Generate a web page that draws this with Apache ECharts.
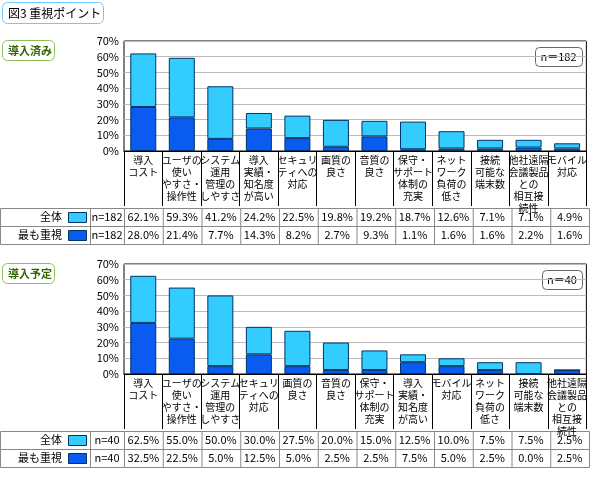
<!DOCTYPE html>
<html><head><meta charset="utf-8">
<script src="https://cdn.jsdelivr.net/npm/echarts@6/dist/echarts.min.js"></script>
<style>html,body{margin:0;padding:0;background:#fff}#c{width:590px;height:481px}</style>
</head><body><div id="c"></div>
<script>
const catsA = ['導入\nコスト', 'ユーザの\n使い\nやすさ・\n操作性', 'システム\n運用\n管理の\nしやすさ', '導入\n実績・\n知名度\nが高い', 'セキュリ\nティへの\n対応', '画質の\n良さ', '音質の\n良さ', '保守・\nサポート\n体制の\n充実', 'ネット\nワーク\n負荷の\n低さ', '接続\n可能な\n端末数', '他社遠隔\n会議製品\nとの\n相互接\n続性', 'モバイル\n対応'];
const totalA = [62.1, 59.3, 41.2, 24.2, 22.5, 19.8, 19.2, 18.7, 12.6, 7.1, 7.1, 4.9];
const keyA = [28.0, 21.4, 7.7, 14.3, 8.2, 2.7, 9.3, 1.1, 1.6, 1.6, 2.2, 1.6];
const catsB = ['導入\nコスト', 'ユーザの\n使い\nやすさ・\n操作性', 'システム\n運用\n管理の\nしやすさ', 'セキュリ\nティへの\n対応', '画質の\n良さ', '音質の\n良さ', '保守・\nサポート\n体制の\n充実', '導入\n実績・\n知名度\nが高い', 'モバイル\n対応', 'ネット\nワーク\n負荷の\n低さ', '接続\n可能な\n端末数', '他社遠隔\n会議製品\nとの\n相互接\n続性'];
const totalB = [62.5, 55.0, 50.0, 30.0, 27.5, 20.0, 15.0, 12.5, 10.0, 7.5, 7.5, 2.5];
const keyB = [32.5, 22.5, 5.0, 12.5, 5.0, 2.5, 2.5, 7.5, 5.0, 2.5, 0.0, 2.5];
const nA = 182, nB = 40;

const LIGHT = '#33ccff', DARK = '#0a5cf0', FONT = '"Noto Sans CJK JP", sans-serif';
const L = 124, W = 465, COL = W / 12;

const chart = echarts.init(document.getElementById('c'));

const panels = [
  { cats: catsA, total: totalA, key: keyA, n: nA, top: 41, name: '導入済み', nbox: [535, 47, 47] },
  { cats: catsB, total: totalB, key: keyB, n: nB, top: 264, name: '導入予定', nbox: [542, 270, 40] }
];

const grid = [], xAxis = [], yAxis = [], series = [], graphic = [];
const txt = (x, y, s, align, extra) => ({ type: 'text', x, y, style: Object.assign({ text: s, font: '11px ' + FONT, fill: '#000', align: align || 'center', verticalAlign: 'middle' }, extra || {}) });
const rect = (x, y, w, h, stroke, fill, r) => ({ type: 'rect', shape: { x, y, width: w, height: h, r: r || 0 }, style: { stroke, fill: fill || 'none', lineWidth: 1 } });

graphic.push(rect(2.5, 2.5, 101, 21, '#66ccff', '#fff', 5), txt(8, 13, '図3 重視ポイント', 'left', { font: '12px ' + FONT }));

panels.forEach((p, i) => {
  grid.push({ left: L, top: p.top, width: W, height: 110, show: true, borderColor: '#000', borderWidth: 1 });
  xAxis.push({
    type: 'category', gridIndex: i, data: p.cats,
    axisLine: { lineStyle: { color: '#000' } },
    axisTick: { show: true, length: 55, lineStyle: { color: '#000' } },
    axisLabel: { interval: 0, fontSize: 10, lineHeight: 12, color: '#000', fontFamily: FONT, margin: 3, verticalAlign: 'top' }
  });
  yAxis.push({
    type: 'value', gridIndex: i, min: 0, max: 70, interval: 10,
    axisLine: { show: false }, axisTick: { show: false },
    axisLabel: { formatter: '{value}%', fontSize: 11, color: '#000', fontFamily: FONT, margin: 5 },
    splitLine: { lineStyle: { color: '#bbb' } }
  });
  series.push(
    { type: 'bar', xAxisIndex: i, yAxisIndex: i, stack: 's' + i, data: p.key, barWidth: 26,
      itemStyle: { color: DARK, borderColor: '#003366', borderWidth: 1 } },
    { type: 'bar', xAxisIndex: i, yAxisIndex: i, stack: 's' + i, data: p.total.map((t, j) => +(t - p.key[j]).toFixed(1)), barWidth: 26,
      itemStyle: { color: LIGHT, borderColor: '#003366', borderWidth: 1 } }
  );

  graphic.push(rect(2.5, p.top - 0.5, 52, 20, '#88c057', '#fff', 5), txt(8, p.top + 10, p.name, 'left', { font: 'bold 11px ' + FONT, fill: '#336600' }));
  const [bx, by, bw] = p.nbox;
  graphic.push(rect(bx + 0.5, by + 0.5, bw, 19, '#666', '#fff', 4), txt(bx + bw / 2, by + 10, 'n＝' + p.n));

  // table
  const ty = p.top + 167;
  const rows = [['全体', LIGHT, p.total], ['最も重視', DARK, p.key]];
  rows.forEach((r, k) => {
    const y = ty + k * 18;
    graphic.push(rect(0.5, y + 0.5, L + W, 18, '#888'));
    graphic.push({ type: 'line', shape: { x1: 90.5, y1: y, x2: 90.5, y2: y + 18 }, style: { stroke: '#888' } });
    graphic.push(txt(62, y + 9, r[0], 'right'), rect(68.5, y + 4.5, 18, 10, '#003366', r[1]));
    graphic.push(txt(107, y + 9, 'n=' + p.n));
    r[2].forEach((v, j) => {
      const x = L + j * COL;
      graphic.push({ type: 'line', shape: { x1: x + 0.5, y1: y, x2: x + 0.5, y2: y + 18 }, style: { stroke: '#888' } });
      graphic.push(txt(x + COL / 2, y + 9, v.toFixed(1) + '%'));
    });
  });
});

chart.setOption({ animation: false, grid, xAxis, yAxis, series, graphic });
</script></body></html>
